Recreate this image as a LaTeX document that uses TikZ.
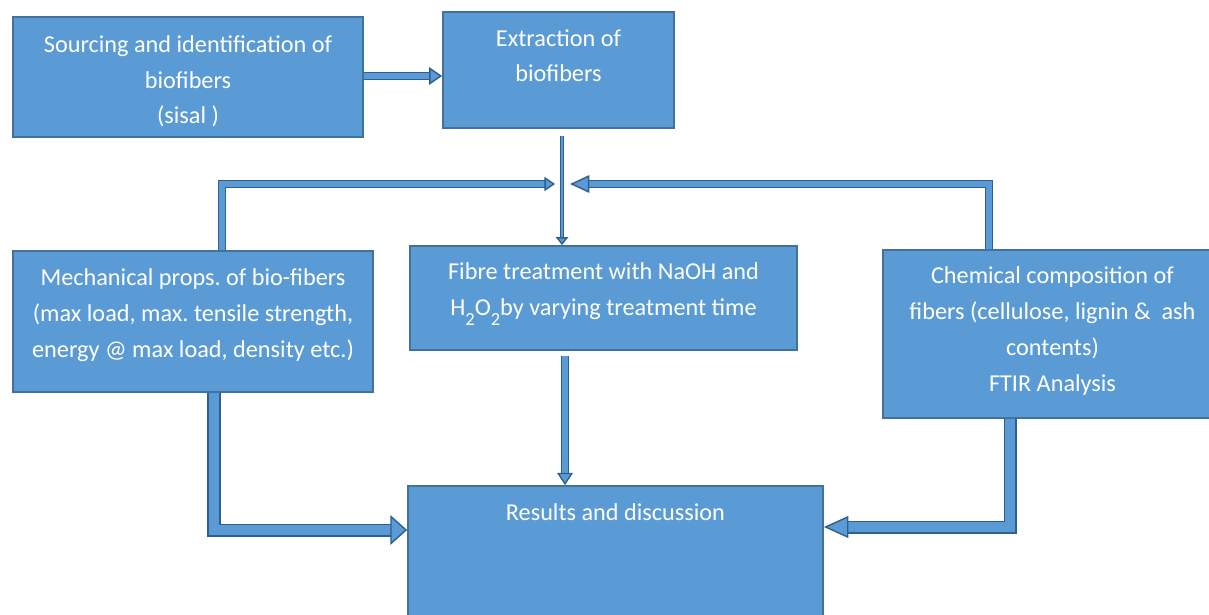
\documentclass[tikz,border=0pt]{standalone}
\usepackage{fontspec}
\setmainfont{Carlito}
\usepackage{tikz}
\usetikzlibrary{arrows.meta}

\definecolor{boxblue}{HTML}{5B9BD5}
\definecolor{boxedge}{HTML}{41719C}
\definecolor{flowedge}{HTML}{2F5F8F}

\newcommand{\lowsub}[1]{\raisebox{-0.9ex}{\fontsize{10.5}{10.5}\selectfont #1}}
\frenchspacing

\begin{document}
\begin{tikzpicture}[
    box/.style={draw=boxedge, line width=1pt, fill=boxblue, text=white, align=center,
                font=\fontsize{13.8}{20.4}\selectfont, inner sep=0pt, text height=0pt, text depth=0pt},
    flow/.style={draw=flowedge, line width=0.8pt, double=boxblue, double distance=2.9pt, line join=miter},
    head/.style={-{Triangle[length=#1, fill=boxblue, line width=0.8pt]}}]
    \useasboundingbox (0,0) rectangle (24.18,-12.3);

    % Boxes
    \node [box, minimum width=7cm,    minimum height=2.4cm,  text height=1.88cm] (sourcing)   at (3.76,-1.54)  {Sourcing and identification of\\biofibers\\(sisal )};
    \node [box, minimum width=4.62cm, minimum height=2.32cm, text height=0.48cm] (extraction) at (11.17,-1.40) {Extraction of\\biofibers};
    \node [box, minimum width=7.2cm,  minimum height=2.82cm, text height=1.44cm] (mechanical) at (3.86,-6.43)  {Mechanical props. of bio-fibers\\(max load, max. tensile strength,\\energy @ max load, density etc.)};
    \node [box, minimum width=7.74cm, minimum height=2.08cm, text height=0.68cm] (treatment)  at (12.07,-5.96) {Fibre treatment with NaOH and\\H\lowsub{2}O\lowsub{2}by varying treatment time};
    \node [box, minimum width=6.78cm, minimum height=3.36cm, text height=2.3cm]  (chemical)   at (21.05,-6.68) {Chemical composition of\\fibers (cellulose, lignin \&\ \ ash\\contents)\\FTIR Analysis};
    \node [box, minimum width=8.3cm,  minimum height=3.48cm, text depth=2.12cm]  (results)    at (12.31,-11.46) {Results and discussion};

    % Paths
    \draw [flow, head={7.4pt, width=10pt}]   (sourcing.east |- 0,-1.52) -- (extraction.west |- 0,-1.52);
    \draw [flow, double distance=1.2pt, head={4.5pt, width=7pt}] ([yshift=-0.14cm]extraction.south -| 11.24,0) -- (treatment.north -| 11.24,0);
    \draw [flow, head={6pt, width=8pt}]      (mechanical.north -| 4.44,0) |- (11.1,-3.68);
    \draw [flow, head={11pt, width=10pt}]    (chemical.north -| 19.78,0) |- (11.4,-3.68);
    \draw [flow, double distance=5.8pt, head={9.6pt, width=17pt}] (mechanical.south -| 4.28,0) |- (results.west |- 0,-10.6);
    \draw [flow, head={7pt, width=9pt}]      ([yshift=-0.1cm]treatment.south -| 11.3,0) -- (results.north -| 11.3,0);
    \draw [flow, double distance=5.8pt, head={14pt, width=12.5pt}] (chemical.south -| 20.2,0) |- (results.east |- 0,-10.54);

\end{tikzpicture}
\end{document}
